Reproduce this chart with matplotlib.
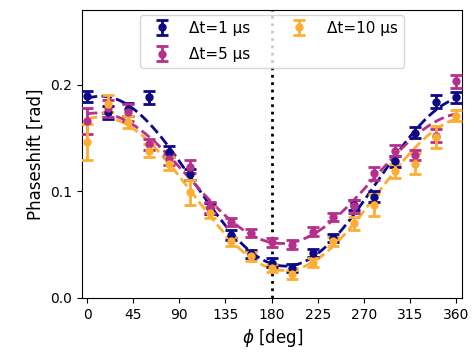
import matplotlib
matplotlib.use("Agg")
import matplotlib.pyplot as plt
import numpy as np

# measured phase shift vs. angle, three pulse spacings
phi = [0, 20, 40, 60, 80, 100, 120, 140, 160, 180, 200, 220, 240, 260, 280, 300, 320, 340, 360]

ps_1 = [0.189, 0.174, 0.177, 0.188, 0.137, 0.116, 0.084, 0.059, 0.041, 0.033, 0.028, 0.042,
        0.056, 0.087, 0.095, 0.128, 0.155, 0.184, 0.188]
err_1 = [0.005, 0.006, 0.006, 0.006, 0.005, 0.005, 0.005, 0.005, 0.004, 0.004, 0.004, 0.004,
         0.004, 0.005, 0.005, 0.005, 0.005, 0.006, 0.005]

ps_5 = [0.166, 0.178, 0.174, 0.144, 0.130, 0.123, 0.085, 0.071, 0.061, 0.052, 0.050, 0.062,
        0.076, 0.086, 0.117, 0.138, 0.134, 0.152, 0.203]
err_5 = [0.012, 0.008, 0.008, 0.005, 0.005, 0.006, 0.005, 0.004, 0.004, 0.004, 0.004, 0.004,
         0.004, 0.006, 0.006, 0.005, 0.005, 0.006, 0.006]

ps_10 = [0.146, 0.182, 0.165, 0.138, 0.126, 0.099, 0.080, 0.053, 0.039, 0.028, 0.022, 0.033,
         0.053, 0.070, 0.087, 0.119, 0.126, 0.151, 0.171]
err_10 = [0.017, 0.008, 0.006, 0.006, 0.006, 0.012, 0.005, 0.004, 0.004, 0.004, 0.004, 0.004,
          0.004, 0.006, 0.010, 0.007, 0.010, 0.010, 0.005]

labels = ["Δt=1 μs", "Δt=5 μs", "Δt=10 μs"]
cmap = plt.get_cmap("plasma")
colors = [cmap(0.0), cmap(0.42), cmap(0.82)]


def cos_fit(x, y, yerr):
    # weighted least squares for A + B cos(phi) + C sin(phi)
    xr = np.deg2rad(x)
    X = np.column_stack([np.ones_like(xr), np.cos(xr), np.sin(xr)])
    w = 1.0 / np.asarray(yerr)
    coef, *_ = np.linalg.lstsq(X * w[:, None], np.asarray(y) * w, rcond=None)
    xf = np.linspace(0, 360, 300)
    xfr = np.deg2rad(xf)
    return xf, coef[0] + coef[1] * np.cos(xfr) + coef[2] * np.sin(xfr)


fig, ax = plt.subplots(figsize=(4.74, 3.58), dpi=100)
fig.subplots_adjust(left=0.173, right=0.975, top=0.972, bottom=0.168)

ax.axvline(180, color="k", linestyle=":", linewidth=2, zorder=1)

for y, e, c, lab in zip([ps_1, ps_5, ps_10], [err_1, err_5, err_10], colors, labels):
    ax.errorbar(phi, y, yerr=e, fmt="o", color=c, markersize=5, elinewidth=2,
                capsize=4, capthick=2, label=lab, zorder=3)
for y, e, c in zip([ps_1, ps_5, ps_10], [err_1, err_5, err_10], colors):
    xf, yf = cos_fit(phi, y, e)
    ax.plot(xf, yf, "--", color=c, linewidth=2, zorder=2)

ax.set_xlim(-5, 366)
ax.set_ylim(0, 0.27)
ax.set_xticks(np.arange(0, 361, 45))
ax.set_yticks([0.0, 0.1, 0.2])
ax.tick_params(labelsize=10)
ax.set_xlabel(r"$\phi$ [deg]", fontsize=12)
ax.set_ylabel("Phaseshift [rad]", fontsize=12)
ax.legend(loc="upper center", ncol=2, fontsize=11, framealpha=0.8,
          labelspacing=0.75, borderaxespad=0.3, columnspacing=2.2)

plt.savefig("out.png", dpi=100)
